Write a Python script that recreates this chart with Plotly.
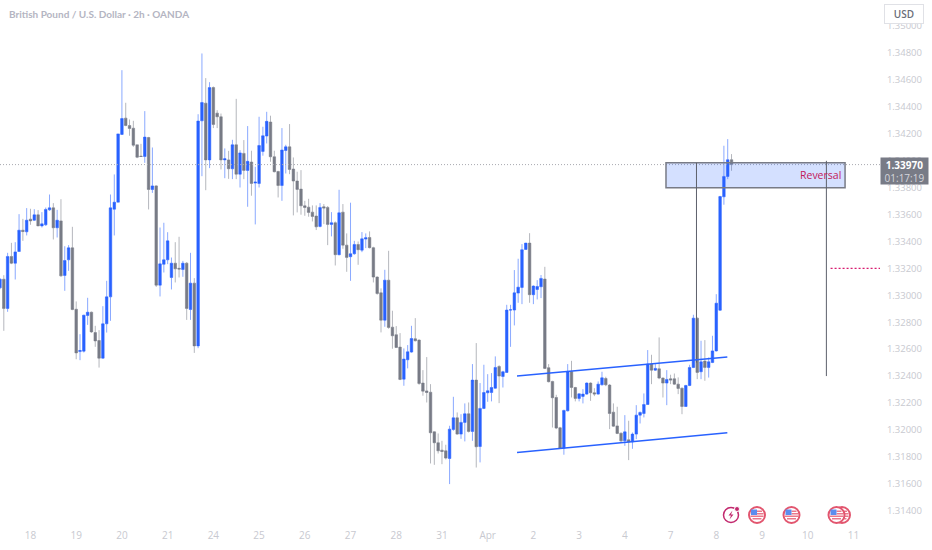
# GBP/USD 2h candles with the drawn zone, channel and event markers
import plotly.graph_objects as go

opens = [
    1.33055, 1.33119, 1.32902, 1.33288, 1.33238, 1.33325, 1.33483, 1.33471, 1.33565, 1.33557,
    1.33597, 1.33515, 1.33523, 1.33634, 1.33649, 1.33501, 1.33552, 1.33147, 1.33263, 1.33352,
    1.32896, 1.32582, 1.32585, 1.32850, 1.32874, 1.32723, 1.32664, 1.32533, 1.32788, 1.32988,
    1.33639, 1.33691, 1.34194, 1.34315, 1.34260, 1.34240, 1.34117, 1.34033, 1.34030, 1.34171,
    1.33785, 1.33812, 1.33075, 1.33230, 1.33263, 1.33132, 1.33238, 1.33200, 1.33191, 1.33238,
    1.32894, 1.33090, 1.32624, 1.34295, 1.34426, 1.34005, 1.34542, 1.34352, 1.34325, 1.34005,
    1.34005, 1.33939, 1.34117, 1.33899, 1.34053, 1.33927, 1.33989, 1.33833, 1.33830, 1.34068,
    1.34182, 1.34286, 1.34028, 1.33919, 1.33815, 1.34075, 1.34102, 1.33937, 1.33848, 1.33788,
    1.33664, 1.33654, 1.33617, 1.33588, 1.33511, 1.33657, 1.33652, 1.33526, 1.33538, 1.33301,
    1.33617, 1.33372, 1.33286, 1.33308, 1.33377, 1.33335, 1.33417, 1.33429, 1.33353, 1.33135,
    1.33018, 1.32815, 1.33112, 1.32763, 1.32707, 1.32615, 1.32377, 1.32521, 1.32578, 1.32677,
    1.32667, 1.32348, 1.32290, 1.32280, 1.31986, 1.31905, 1.31850, 1.31845, 1.31788, 1.32004,
    1.32090, 1.31969, 1.32056, 1.32120, 1.31989, 1.32370, 1.31877, 1.32160, 1.32276, 1.32278,
    1.32310, 1.32471, 1.32397, 1.32427, 1.32890, 1.32890, 1.33016, 1.33058, 1.33340, 1.33387,
    1.33004, 1.33043, 1.33063, 1.33120, 1.32462, 1.32360, 1.32241, 1.32016, 1.31865, 1.32142,
    1.32434, 1.32315, 1.32234, 1.32249, 1.32266, 1.32348, 1.32276, 1.32266, 1.32335, 1.32382,
    1.32333, 1.32132, 1.32030, 1.31976, 1.31919, 1.31927, 1.31912, 1.31969, 1.32110, 1.32122,
    1.32189, 1.32489, 1.32444, 1.32454, 1.32385, 1.32348, 1.32380, 1.32380, 1.32340, 1.32310,
    1.32174, 1.32330, 1.32464, 1.32830, 1.32432, 1.32511, 1.32464, 1.32501, 1.32587, 1.32889,
    1.33731, 1.33882, 1.34006,
]
closes = [
    1.33119, 1.32902, 1.33288, 1.33238, 1.33322, 1.33483, 1.33473, 1.33557, 1.33552, 1.33597,
    1.33515, 1.33530, 1.33637, 1.33649, 1.33501, 1.33557, 1.33144, 1.33258, 1.33352, 1.32894,
    1.32572, 1.32590, 1.32852, 1.32874, 1.32728, 1.32661, 1.32533, 1.32788, 1.32988, 1.33649,
    1.33691, 1.34198, 1.34312, 1.34260, 1.34238, 1.34114, 1.34025, 1.34030, 1.34174, 1.33785,
    1.33812, 1.33075, 1.33233, 1.33263, 1.33404, 1.33238, 1.33196, 1.33194, 1.33238, 1.32902,
    1.33090, 1.32624, 1.34293, 1.34431, 1.34005, 1.34542, 1.34268, 1.34325, 1.34005, 1.34013,
    1.33939, 1.34117, 1.33899, 1.34057, 1.33927, 1.33994, 1.33830, 1.33840, 1.34112, 1.34184,
    1.34291, 1.34028, 1.33917, 1.33815, 1.34078, 1.34102, 1.33934, 1.33848, 1.33786, 1.33664,
    1.33652, 1.33615, 1.33585, 1.33508, 1.33652, 1.33647, 1.33526, 1.33538, 1.33301, 1.33612,
    1.33372, 1.33281, 1.33308, 1.33377, 1.33338, 1.33419, 1.33427, 1.33353, 1.33135, 1.33013,
    1.32815, 1.33112, 1.32761, 1.32699, 1.32612, 1.32375, 1.32526, 1.32580, 1.32679, 1.32662,
    1.32345, 1.32288, 1.32278, 1.31979, 1.31905, 1.31845, 1.31840, 1.31791, 1.32006, 1.32090,
    1.31969, 1.32056, 1.32120, 1.31989, 1.32370, 1.31875, 1.32160, 1.32278, 1.32291, 1.32315,
    1.32464, 1.32400, 1.32432, 1.32890, 1.32892, 1.33018, 1.33060, 1.33338, 1.33387, 1.33004,
    1.33068, 1.33065, 1.33125, 1.32457, 1.32358, 1.32239, 1.32014, 1.31865, 1.32145, 1.32434,
    1.32315, 1.32234, 1.32268, 1.32266, 1.32348, 1.32276, 1.32266, 1.32340, 1.32387, 1.32335,
    1.32122, 1.32028, 1.31974, 1.31919, 1.31986, 1.31910, 1.31969, 1.32110, 1.32130, 1.32189,
    1.32489, 1.32444, 1.32457, 1.32385, 1.32348, 1.32375, 1.32370, 1.32340, 1.32308, 1.32174,
    1.32330, 1.32464, 1.32830, 1.32427, 1.32506, 1.32464, 1.32506, 1.32587, 1.32941, 1.33733,
    1.33882, 1.34006, 1.33970,
]
highs = [
    1.33127, 1.33149, 1.33315, 1.33389, 1.33394, 1.33602, 1.33567, 1.33647, 1.33642, 1.33639,
    1.33632, 1.33617, 1.33651, 1.33748, 1.33684, 1.33634, 1.33713, 1.33364, 1.33372, 1.33508,
    1.32954, 1.32711, 1.32855, 1.32981, 1.32879, 1.32773, 1.32741, 1.32919, 1.33107, 1.33748,
    1.33897, 1.34198, 1.34671, 1.34429, 1.34305, 1.34295, 1.34117, 1.34124, 1.34367, 1.34176,
    1.34097, 1.33817, 1.33503, 1.33538, 1.33468, 1.33280, 1.33394, 1.33434, 1.33255, 1.33246,
    1.33315, 1.33127, 1.34344, 1.34795, 1.34612, 1.34582, 1.34550, 1.34374, 1.34349, 1.34090,
    1.34072, 1.34154, 1.34458, 1.34077, 1.34152, 1.34256, 1.34073, 1.33954, 1.34325, 1.34251,
    1.34362, 1.34333, 1.34073, 1.33924, 1.34241, 1.34117, 1.34271, 1.34023, 1.33917, 1.33929,
    1.33701, 1.33716, 1.33667, 1.33667, 1.33684, 1.33677, 1.33662, 1.33617, 1.33548, 1.33783,
    1.33677, 1.33459, 1.33687, 1.33404, 1.33399, 1.33469, 1.33459, 1.33474, 1.33360, 1.33140,
    1.33051, 1.33189, 1.33330, 1.32885, 1.32771, 1.32719, 1.32605, 1.32630, 1.32773, 1.32830,
    1.32672, 1.32444, 1.32541, 1.32340, 1.31989, 1.31974, 1.31919, 1.31890, 1.32031, 1.32246,
    1.32130, 1.32117, 1.32197, 1.32204, 1.32489, 1.32645, 1.32348, 1.32484, 1.32414, 1.32422,
    1.32546, 1.32481, 1.32439, 1.32929, 1.32929, 1.33187, 1.33271, 1.33380, 1.33389, 1.33461,
    1.33073, 1.33112, 1.33150, 1.33211, 1.32489, 1.32365, 1.32261, 1.32023, 1.32150, 1.32489,
    1.32513, 1.32320, 1.32270, 1.32303, 1.32353, 1.32353, 1.32310, 1.32360, 1.32432, 1.32395,
    1.32340, 1.32197, 1.32172, 1.31981, 1.32110, 1.32068, 1.31981, 1.32184, 1.32137, 1.32271,
    1.32593, 1.32558, 1.32489, 1.32687, 1.32390, 1.32444, 1.32410, 1.32419, 1.32390, 1.32315,
    1.32335, 1.32484, 1.32855, 1.32835, 1.32662, 1.32667, 1.32538, 1.32699, 1.33008, 1.33738,
    1.34110, 1.34159, 1.34048,
]
lows = [
    1.33045, 1.32736, 1.32877, 1.33231, 1.33117, 1.33325, 1.33404, 1.33444, 1.33523, 1.33552,
    1.33513, 1.33503, 1.33515, 1.33627, 1.33414, 1.33429, 1.33137, 1.33033, 1.33181, 1.32889,
    1.32525, 1.32518, 1.32575, 1.32780, 1.32721, 1.32617, 1.32463, 1.32530, 1.32723, 1.32810,
    1.33444, 1.33691, 1.34191, 1.34255, 1.34184, 1.34102, 1.34018, 1.34028, 1.33983, 1.33637,
    1.33760, 1.33062, 1.32991, 1.33169, 1.33231, 1.33043, 1.33095, 1.33132, 1.33137, 1.32817,
    1.32817, 1.32572, 1.32607, 1.33884, 1.33780, 1.33944, 1.34241, 1.34241, 1.33934, 1.33869,
    1.33864, 1.33862, 1.33862, 1.33800, 1.33862, 1.33657, 1.33739, 1.33526, 1.33800, 1.34036,
    1.34127, 1.33991, 1.33912, 1.33726, 1.33701, 1.33904, 1.33899, 1.33593, 1.33615, 1.33598,
    1.33590, 1.33583, 1.33548, 1.33484, 1.33504, 1.33528, 1.33372, 1.33437, 1.33221, 1.33296,
    1.33345, 1.33174, 1.33107, 1.33301, 1.33226, 1.33320, 1.33350, 1.33348, 1.33095, 1.33004,
    1.32724, 1.32766, 1.32751, 1.32603, 1.32608, 1.32370, 1.32328, 1.32457, 1.32573, 1.32657,
    1.32335, 1.32254, 1.32204, 1.31751, 1.31741, 1.31825, 1.31746, 1.31781, 1.31598, 1.31994,
    1.31964, 1.31934, 1.31915, 1.31981, 1.31919, 1.31721, 1.31759, 1.32155, 1.32209, 1.32212,
    1.32306, 1.32199, 1.32315, 1.32424, 1.32617, 1.32776, 1.32944, 1.32934, 1.33338, 1.32944,
    1.32934, 1.32969, 1.32979, 1.32452, 1.32353, 1.32018, 1.32006, 1.31860, 1.31816, 1.32137,
    1.32241, 1.32212, 1.32212, 1.32197, 1.32261, 1.32216, 1.32251, 1.32261, 1.32330, 1.32325,
    1.32006, 1.32023, 1.31969, 1.31907, 1.31882, 1.31776, 1.31860, 1.31932, 1.32048, 1.32093,
    1.32187, 1.32340, 1.32439, 1.32377, 1.32241, 1.32184, 1.32340, 1.32335, 1.32266, 1.32117,
    1.32172, 1.32325, 1.32459, 1.32377, 1.32377, 1.32365, 1.32389, 1.32496, 1.32582, 1.32884,
    1.33672, 1.33862, 1.33924,
]

day_labels = ["18", "19", "20", "21", "24", "25", "26", "27", "28", "31", "Apr",
              "2", "3", "4", "7", "8", "9", "10", "11"]
day_ticks = [8 + 12 * k for k in range(len(day_labels))]

current_price = 1.33970
zone_low, zone_high = 1.33798, 1.33983
target_price = 1.33200
channel_x = [135.7, 190.9]
channel_upper = [1.32400, 1.32541]
channel_lower = [1.31833, 1.31979]

W, H = 932, 550
PLOT_W, PLOT_H = 880, 528
BLUE = "#2962ff"
GREY = "#787b86"
PINK = "#d81b70"
BAR_PX = 3.81

x_idx = list(range(len(opens)))
fig = go.Figure(go.Candlestick(
    x=x_idx, open=opens, high=highs, low=lows, close=closes,
    increasing=dict(line=dict(color="rgba(41,98,255,0.55)", width=1), fillcolor=BLUE),
    decreasing=dict(line=dict(color="rgba(120,123,134,0.55)", width=1), fillcolor=GREY),
    whiskerwidth=0, hoverinfo="skip",
))


def px_x(px):
    return px / PLOT_W


def px_y(py):
    return 1 - py / PLOT_H


shapes = [
    dict(type="line", xref="paper", yref="y", x0=0, x1=1, y0=current_price, y1=current_price,
         line=dict(color="#a8a9b0", width=1, dash="1px,2px")),
    dict(type="rect", xref="x", yref="y", x0=174.8, x1=221.8, y0=zone_low, y1=zone_high,
         fillcolor="rgba(41,98,255,0.2)", line=dict(color=GREY, width=1.5)),
    dict(type="line", xref="x", yref="y", x0=182.8, x1=182.8, y0=1.3250, y1=zone_high,
         line=dict(color="#5d606b", width=1)),
    dict(type="line", xref="x", yref="y", x0=216.9, x1=216.9, y0=1.3240, y1=1.33998,
         line=dict(color="#5d606b", width=1)),
    dict(type="line", xref="x", yref="y", x0=218, x1=231, y0=target_price, y1=target_price,
         line=dict(color=PINK, width=1.2, dash="2px,2px")),
    dict(type="line", xref="x", yref="y", x0=channel_x[0], x1=channel_x[1],
         y0=channel_upper[0], y1=channel_upper[1], line=dict(color=BLUE, width=1.5)),
    dict(type="line", xref="x", yref="y", x0=channel_x[0], x1=channel_x[1],
         y0=channel_lower[0], y1=channel_lower[1], line=dict(color=BLUE, width=1.5)),
]


def pixel_shape(cx, cy, **kw):
    # shape drawn in pixel offsets around a page position
    return dict(xref="paper", yref="paper", xsizemode="pixel", ysizemode="pixel",
                xanchor=px_x(cx), yanchor=px_y(cy), **kw)


def flag_icon(cx, cy):
    ring = "#e2566f"
    out = [pixel_shape(cx, cy, type="circle", x0=-8, x1=8, y0=-8, y1=8,
                       fillcolor="white", line=dict(color=ring, width=2))]
    for y0, y1, x0, x1 in [(3, 4.5, 0, 5), (0.5, 2, 0, 6.5), (-2, -0.5, -6.5, 6.5), (-4.5, -3, -4.5, 4.5)]:
        out.append(pixel_shape(cx, cy, type="rect", x0=x0, x1=x1, y0=y0, y1=y1,
                               fillcolor="#e9788c", line=dict(width=0)))
    out.append(pixel_shape(cx, cy, type="rect", x0=-6, x1=0, y0=0, y1=5.5,
                           fillcolor="#5b8def", line=dict(width=0)))
    return out


# second flag sits behind the last one
shapes += flag_icon(842, 515) + flag_icon(757, 515) + flag_icon(791.5, 515) + flag_icon(836.5, 515)
shapes += [
    pixel_shape(731, 515, type="circle", x0=-7.5, x1=7.5, y0=-7.5, y1=7.5,
                fillcolor="white", line=dict(color="#c2296e", width=1.5)),
    pixel_shape(737, 509, type="circle", x0=-2.5, x1=2.5, y0=-2.5, y1=2.5,
                fillcolor="#c2296e", line=dict(color="white", width=1)),
    pixel_shape(731, 515, type="path", path="M 1.5 4.5 L -2.5 -0.5 L 0 -0.5 L -1.5 -4.5 L 2.5 0.5 L 0 0.5 Z",
                fillcolor="#c2296e", line=dict(width=0)),
]

annotations = [
    dict(xref="paper", yref="paper", x=px_x(7), y=px_y(14), xanchor="left", yanchor="middle",
         showarrow=False, text="British Pound / U.S. Dollar · 2h · OANDA",
         font=dict(family="Lato", size=10, color="#b4b5c2", weight=700)),
    dict(xref="paper", yref="paper", x=px_x(904), y=px_y(14), xanchor="center", yanchor="middle",
         showarrow=False, text="USD", width=36, height=16, bgcolor="white",
         bordercolor="#e0e1e6", borderwidth=1, borderpad=1,
         font=dict(family="Open Sans", size=10, color="#6a6d78", weight=600)),
    dict(xref="paper", yref="paper", x=px_x(904.5), y=px_y(170.5), xanchor="center", yanchor="middle",
         showarrow=False, text="<b>1.33970</b><br><span style='color:#d5d6dc'>01:17:19</span>",
         width=47, height=26, bgcolor=GREY, borderpad=0,
         font=dict(family="Open Sans", size=10, color="white")),
    dict(xref="x", yref="y", x=221.2, y=(zone_low + zone_high) / 2, xanchor="right", yanchor="middle",
         showarrow=False, text="Reversal", font=dict(family="Open Sans", size=10.5, color="#c2185b")),
]

# y range comes from the 1.34800 (y=52) and 1.31400 (y=510) tick positions
fig.update_layout(
    width=W, height=H, margin=dict(l=0, r=W - PLOT_W, t=0, b=H - PLOT_H),
    paper_bgcolor="white", plot_bgcolor="white", showlegend=False, boxgap=0.05,
    font=dict(family="Open Sans", size=10, color="#c8c9d0"),
    shapes=shapes, annotations=annotations,
    xaxis=dict(range=[0, PLOT_W / BAR_PX], rangeslider=dict(visible=False), showgrid=False,
               zeroline=False, showline=False, tickmode="array", tickvals=day_ticks,
               ticktext=day_labels, ticks="", tickfont=dict(size=10, color="#c8c9d0")),
    yaxis=dict(side="right", range=[1.31272, 1.35192], showgrid=False, zeroline=False,
               showline=False, tick0=1.314, dtick=0.002, tickformat=".5f", ticks="outside",
               ticklen=4, tickcolor="white", tickfont=dict(size=9.5, color="#c8c9d0")),
)

# the browser's default body margin would push the fixed-size chart off the window
fig.write_html("out.html", config=dict(displayModeBar=False),
               post_script="document.body.style.margin='0';document.body.style.overflow='hidden';")
